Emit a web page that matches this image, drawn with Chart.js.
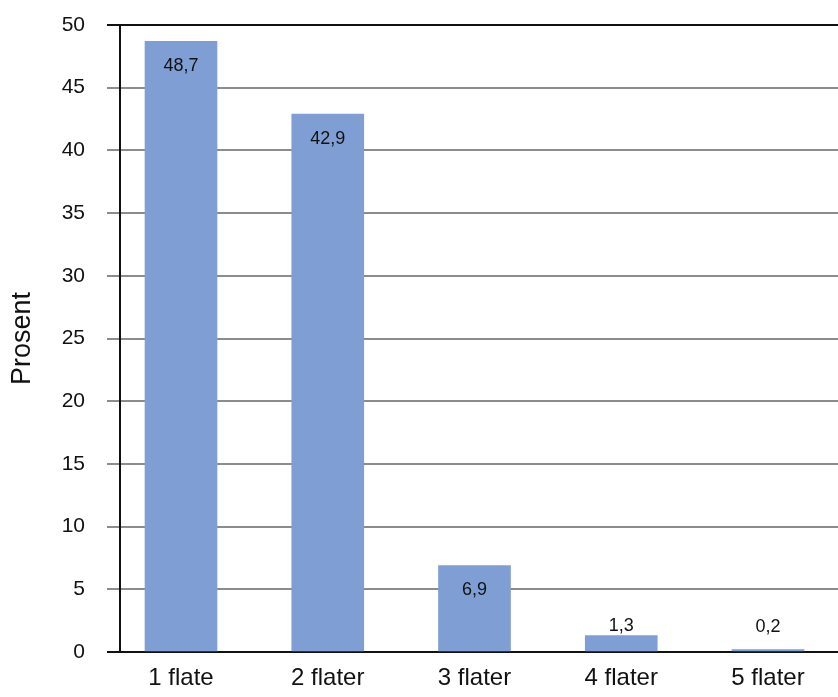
<!DOCTYPE html>
<html>
<head>
<meta charset="utf-8">
<script src="https://cdn.jsdelivr.net/npm/chart.js@4/dist/chart.umd.min.js"></script>
<style>
  html, body { margin: 0; padding: 0; background: #fff; overflow: hidden; }
  canvas { display: block; }
</style>
</head>
<body>
<canvas id="chart" width="838" height="697"></canvas>
<script>
/* ---------- Data ---------- */
const categories = ['1 flate', '2 flater', '3 flater', '4 flater', '5 flater'];
const prosent = [48.7, 42.9, 6.9, 1.3, 0.2];
const yTicks = [0, 5, 10, 15, 20, 25, 30, 35, 40, 45, 50];

const FONT = "'Liberation Sans', Arial, sans-serif";

/* ---------- Value labels (comma decimals) ---------- */
const valueLabels = {
  id: 'valueLabels',
  afterDatasetsDraw(chart) {
    const ctx = chart.ctx;
    const meta = chart.getDatasetMeta(0);
    ctx.save();
    ctx.font = '18px ' + FONT;
    ctx.fillStyle = '#111';
    ctx.textAlign = 'center';
    ctx.textBaseline = 'middle';
    meta.data.forEach((bar, i) => {
      const v = prosent[i];
      const txt = v.toFixed(1).replace('.', ',');
      // tall bars: label inside near the top, short bars: above
      const y = v > 5 ? bar.y + 25 : Math.min(bar.y - 10, bar.base - 24);
      ctx.fillText(txt, bar.x, y);
    });
    ctx.restore();
  }
};

new Chart(document.getElementById('chart'), {
  type: 'bar',
  data: {
    datasets: [{
      data: prosent.map((v, i) => ({ x: i, y: v })),
      backgroundColor: '#7f9fd4',
      barThickness: 72
    }]
  },
  options: {
    responsive: false,
    animation: false,
    layout: { padding: { top: 25, left: 0, right: 0, bottom: 0 } },
    plugins: { legend: { display: false }, tooltip: { enabled: false } },
    scales: {
      x: {
        type: 'linear',
        offset: false,
        bounds: 'data',
        min: -0.4157,
        max: 4.477,
        afterBuildTicks: s => { s.ticks = categories.map((c, i) => ({ value: i })); },
        afterFit: s => { s.height = 45; },
        grid: { display: false },
        border: { display: true, color: '#111', width: 2 },
        ticks: {
          autoSkip: false,
          maxRotation: 0,
          padding: 4,
          color: '#111',
          font: { family: FONT, size: 24 },
          callback: v => categories[v]
        }
      },
      y: {
        min: 0,
        max: 50,
        afterBuildTicks: s => { s.ticks = yTicks.map(v => ({ value: v })); },
        afterFit: s => { s.width = 120; s.paddingTop = 0; s.paddingBottom = 0; },
        grid: {
          color: c => (c.tick && (c.tick.value === 50 || c.tick.value === 0)) ? '#111' : '#8c8c8c',
          lineWidth: 2,
          tickLength: 13
        },
        border: { display: true, color: '#111', width: 2 },
        ticks: {
          padding: 22,
          color: '#111',
          font: { family: FONT, size: 21 }
        },
        title: {
          display: true,
          text: 'Prosent',
          color: '#111',
          padding: { top: 6, bottom: 0 },
          font: { family: FONT, size: 27 }
        }
      }
    }
  },
  plugins: [valueLabels]
});
</script>
</body>
</html>
